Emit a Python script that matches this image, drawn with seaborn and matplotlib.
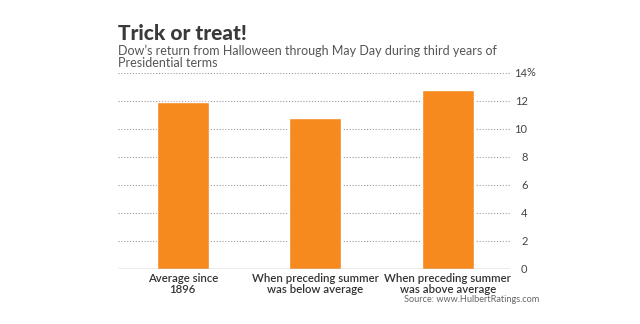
import matplotlib
matplotlib.use("Agg")
import matplotlib.pyplot as plt
import matplotlib.transforms as mtransforms
import seaborn as sns
import pandas as pd

categories = ["Average since\n1896", "When preceding summer\nwas below average", "When preceding summer\nwas above average"]
values = [11.9, 10.8, 12.8]
yticks = [0, 2, 4, 6, 8, 10, 12, 14]

sns.set_theme(style="white")
plt.rcParams['font.family'] = ['Lato', 'DejaVu Sans']

df = pd.DataFrame({"cat": categories, "val": values})
fig = plt.figure(figsize=(6.4, 3.24), dpi=100)
ax = fig.add_axes([0.184, 0.170, 0.613, 0.605])
sns.barplot(data=df, x="cat", y="val", color="#F68A1F", saturation=1, width=0.39, ax=ax)
ax.set_xlim(-0.49, 2.47)
ax.set_ylim(0, 14)
for s in ax.spines.values():
    s.set_visible(False)
for t in yticks[1:]:
    ax.axhline(t, color="#9a9a9a", lw=0.8, ls=(0, (1, 1.6)), zorder=0)
ax.axhline(0, color="#999999", lw=1.0, zorder=3)
ax.yaxis.tick_right()
ax.set_yticks(yticks)
ax.set_yticklabels([str(t) for t in yticks], ha="right")
ax.tick_params(axis="y", length=0, pad=12.5, labelsize=8, labelcolor="#444444")
ax.tick_params(axis="x", length=0, pad=3, labelsize=8.2, labelcolor="#333333")
for lab in ax.get_xticklabels():
    lab.set_fontweight("semibold")
    lab.set_linespacing(1.0)
ax.set_xlabel("")
ax.set_ylabel("")
off = mtransforms.offset_copy(ax.get_yaxis_transform(), fig=fig, x=11.6, y=0, units="points")
ax.text(1.0, 14, "%", transform=off, ha="left", va="center", fontsize=8, color="#444444")

fig.text(0.184, 0.898, "Trick or treat!", fontsize=15, fontweight="black", color="#3a3a3a", va="center")
fig.text(0.184, 0.825, "Dow\u2019s return from Halloween through May Day during third years of\nPresidential terms",
         fontsize=9, color="#555555", va="center", linespacing=1.0)
fig.text(0.843, 0.075, "Source: www.HulbertRatings.com", fontsize=6.6, color="#666666", ha="right", va="center")
fig.savefig("out.png", dpi=100)
